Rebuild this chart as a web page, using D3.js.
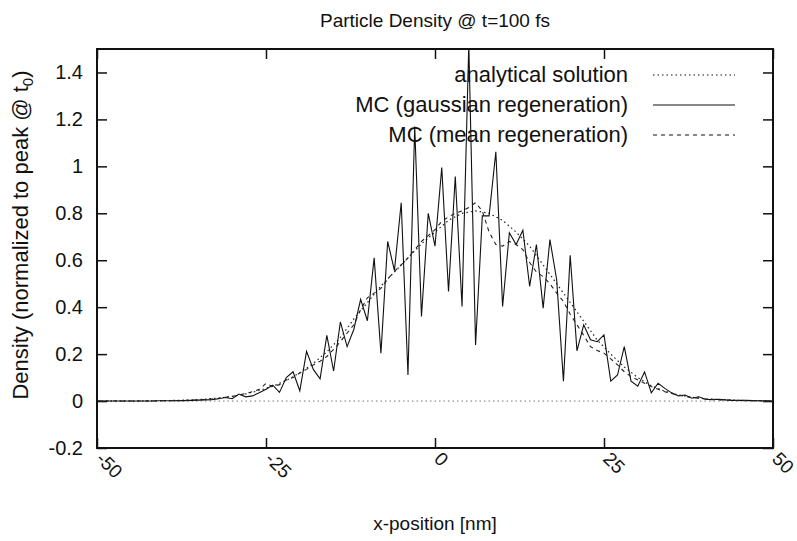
<!DOCTYPE html>
<html>
<head>
<meta charset="utf-8">
<script src="https://cdn.jsdelivr.net/npm/d3@7"></script>
<style>
  body { margin: 0; background: #fff; }
  text { font-family: "Liberation Sans", Arial, Helvetica, sans-serif; fill: #111; }
</style>
</head>
<body>
<div id="chart"></div>
<script>
// x grid of the Monte Carlo runs (nm)
const xMC = [-50, -49, -48, -47, -46, -45, -44, -43, -42, -41, -40, -39, -38, -37, -36, -35, -34, -33, -32, -31,
  -30, -29, -28, -27, -26, -25, -24, -23, -22, -21, -20, -19, -18, -17, -16, -15, -14, -13, -12, -11,
  -10, -9, -8, -7, -6, -5, -4, -3, -2, -1, 0, 1, 2, 3, 4, 5, 6, 7, 8, 9,
  10, 11, 12, 13, 14, 15, 16, 17, 18, 19, 20, 21, 22, 23, 24, 25, 26, 27, 28, 29,
  30, 31, 32, 33, 34, 35, 36, 37, 38, 39, 40, 41, 42, 43, 44, 45, 46, 47, 48, 49, 50];

const gaussMC = [0, 0, 0, 0, 0, 0, 0, 0, 0, 0.001, 0.001, 0.001, 0.002, 0.002, 0.003, 0.004, 0.005, 0.006, 0.01, 0.015,
  0.01, 0.03, 0.018, 0.022, 0.035, 0.05, 0.068, 0.037, 0.1, 0.125, 0.044, 0.212, 0.135, 0.095, 0.28, 0.128, 0.337, 0.232, 0.306, 0.433,
  0.342, 0.61, 0.204, 0.68, 0.556, 0.845, 0.111, 1.17, 0.36, 0.8, 0.66, 0.995, 0.467, 0.957, 0.403, 1.52, 0.239, 0.789, 0.789, 1.062,
  0.403, 0.717, 0.667, 0.728, 0.489, 0.667, 0.396, 0.688, 0.517, 0.085, 0.621, 0.214, 0.325, 0.261, 0.253, 0.282, 0.085, 0.111, 0.232, 0.085,
  0.063, 0.124, 0.035, 0.076, 0.054, 0.035, 0.022, 0.026, 0.012, 0.018, 0.008, 0.006, 0.008, 0.005, 0.003, 0.003, 0.003, 0.002, 0.001, 0.001, 0];

const meanMC = [0, 0, 0, 0, 0, 0, 0, 0, 0, 0.001, 0.001, 0.001, 0.002, 0.003, 0.004, 0.005, 0.007, 0.009, 0.012, 0.016,
  0.02, 0.026, 0.032, 0.04, 0.05, 0.075, 0.062, 0.07, 0.09, 0.1, 0.12, 0.135, 0.154, 0.17, 0.19, 0.22, 0.253, 0.29, 0.325, 0.39,
  0.44, 0.46, 0.48, 0.52, 0.553, 0.58, 0.61, 0.645, 0.68, 0.705, 0.73, 0.766, 0.785, 0.8, 0.81, 0.825, 0.845, 0.81, 0.72, 0.667,
  0.66, 0.68, 0.667, 0.645, 0.59, 0.55, 0.53, 0.5, 0.46, 0.424, 0.37, 0.325, 0.28, 0.232, 0.215, 0.204, 0.18, 0.154, 0.125, 0.104,
  0.09, 0.076, 0.062, 0.05, 0.04, 0.032, 0.025, 0.02, 0.015, 0.012, 0.009, 0.007, 0.005, 0.004, 0.003, 0.002, 0.002, 0.001, 0.001, 0, 0];

// analytical curve, read every 2 nm
const xAna = [-50, -48, -46, -44, -42, -40, -38, -36, -34, -32, -30, -28, -26, -24, -22, -20, -18, -16, -14, -12,
  -10, -8, -6, -4, -2, 0, 2, 4, 6, 8, 10, 12, 14, 16, 18, 20, 22, 24, 26, 28,
  30, 32, 34, 36, 38, 40, 42, 44, 46, 48, 50];
const analytical = [0, 0, 0, 0, 0.001, 0.002, 0.003, 0.005, 0.008, 0.013, 0.02, 0.03, 0.045, 0.063, 0.088, 0.12, 0.16, 0.21, 0.27, 0.35,
  0.42, 0.49, 0.55, 0.61, 0.67, 0.72, 0.77, 0.8, 0.81, 0.8, 0.77, 0.72, 0.66, 0.58, 0.5, 0.42, 0.34, 0.26, 0.2, 0.145,
  0.1, 0.065, 0.042, 0.026, 0.016, 0.01, 0.006, 0.004, 0.002, 0.001, 0];

const yTicks = [-0.2, 0, 0.2, 0.4, 0.6, 0.8, 1, 1.2, 1.4];
const xTicks = [-50, -25, 0, 25, 50];
const legendLabels = ["analytical solution", "MC (gaussian regeneration)", "MC (mean regeneration)"];

const W = 797, H = 541;
const box = { left: 97, right: 773, top: 49, bottom: 448 };

const svg = d3.select("#chart").append("svg")
  .attr("width", W)
  .attr("height", H);

const xScale = d3.scaleLinear().domain([-50, 50]).range([box.left, box.right]);
const yScale = d3.scaleLinear().domain([-0.2, 1.5]).range([box.bottom, box.top]);

svg.append("clipPath").attr("id", "plot-clip")
  .append("rect")
  .attr("x", box.left).attr("y", box.top)
  .attr("width", box.right - box.left).attr("height", box.bottom - box.top);

// axes, ticks pointing inward like gnuplot
const yAxis = d3.axisLeft(yScale)
  .tickValues(yTicks)
  .tickSizeInner(-10).tickSizeOuter(0)
  .tickPadding(14)
  .tickFormat(d => String(+d.toFixed(1)));

svg.append("g")
  .attr("transform", `translate(${box.left},0)`)
  .call(yAxis)
  .call(g => g.select(".domain").remove())
  .call(g => g.selectAll("text").style("font-size", "20px").attr("fill", "#111"));

svg.append("g")
  .attr("transform", `translate(${box.right},0)`)
  .call(d3.axisRight(yScale).tickValues(yTicks).tickSizeInner(-10).tickSizeOuter(0).tickFormat(""))
  .call(g => g.select(".domain").remove());

svg.append("g")
  .attr("transform", `translate(0,${box.bottom})`)
  .call(d3.axisBottom(xScale).tickValues(xTicks).tickSizeInner(-10).tickSizeOuter(0).tickFormat(""))
  .call(g => g.select(".domain").remove());

svg.append("g")
  .attr("transform", `translate(0,${box.top})`)
  .call(d3.axisTop(xScale).tickValues(xTicks).tickSizeInner(-10).tickSizeOuter(0).tickFormat(""))
  .call(g => g.select(".domain").remove());

svg.selectAll(".tick line").attr("stroke", "#111").attr("stroke-width", 1.5);

// rotated x tick labels
svg.selectAll(".xlab")
  .data(xTicks)
  .enter()
  .append("text")
  .attr("class", "xlab")
  .attr("transform", d => `translate(${xScale(d) - 2},${box.bottom + 12}) rotate(45)`)
  .attr("text-anchor", "start")
  .style("font-size", "19px")
  .text(d => String(d));

// zero axis
svg.append("line")
  .attr("x1", box.left).attr("x2", box.right)
  .attr("y1", yScale(0)).attr("y2", yScale(0))
  .attr("stroke", "#777")
  .attr("stroke-width", 1)
  .attr("stroke-dasharray", "1.5,3");

const plot = svg.append("g").attr("clip-path", "url(#plot-clip)");

const line = d3.line()
  .x(d => xScale(d[0]))
  .y(d => yScale(d[1]));

plot.append("path")
  .datum(xAna.map((x, i) => [x, analytical[i]]))
  .attr("fill", "none")
  .attr("stroke", "#222")
  .attr("stroke-width", 1.2)
  .attr("stroke-dasharray", "1.5,3")
  .attr("d", line);

plot.append("path")
  .datum(xMC.map((x, i) => [x, gaussMC[i]]))
  .attr("fill", "none")
  .attr("stroke", "#111")
  .attr("stroke-width", 1.1)
  .attr("d", line);

plot.append("path")
  .datum(xMC.map((x, i) => [x, meanMC[i]]))
  .attr("fill", "none")
  .attr("stroke", "#222")
  .attr("stroke-width", 1.1)
  .attr("stroke-dasharray", "4,4")
  .attr("d", line);

// border
svg.append("rect")
  .attr("x", box.left).attr("y", box.top)
  .attr("width", box.right - box.left).attr("height", box.bottom - box.top)
  .attr("fill", "none")
  .attr("stroke", "#111")
  .attr("stroke-width", 2);

// legend
const legendDash = ["1.5,3", null, "4,4"];
const legendY = [75, 105, 135];
const legend = svg.append("g");
legendLabels.forEach((label, i) => {
  legend.append("text")
    .attr("x", 628)
    .attr("y", legendY[i] + 7)
    .attr("text-anchor", "end")
    .style("font-size", "22px")
    .text(label);
  legend.append("line")
    .attr("x1", 653).attr("x2", 735)
    .attr("y1", legendY[i]).attr("y2", legendY[i])
    .attr("stroke", "#111")
    .attr("stroke-width", 1.1)
    .attr("stroke-dasharray", legendDash[i]);
});

// titles
svg.append("text")
  .attr("x", (box.left + box.right) / 2)
  .attr("y", 27)
  .attr("text-anchor", "middle")
  .style("font-size", "19px")
  .text("Particle Density @ t=100 fs");

svg.append("text")
  .attr("x", (box.left + box.right) / 2)
  .attr("y", 530)
  .attr("text-anchor", "middle")
  .style("font-size", "19px")
  .text("x-position [nm]");

// y label: measured, then centred on y=235
const ylab = svg.append("text")
  .attr("text-anchor", "start")
  .style("font-size", "22px");
ylab.append("tspan").text("Density (normalized to peak @ t");
ylab.append("tspan").attr("dy", 5).style("font-size", "15px").text("0");
ylab.append("tspan").attr("dy", -5).text(")");
const ylabLen = ylab.node().getComputedTextLength();
ylab.attr("transform", `translate(28,${235 + ylabLen / 2}) rotate(-90)`);
</script>
</body>
</html>
